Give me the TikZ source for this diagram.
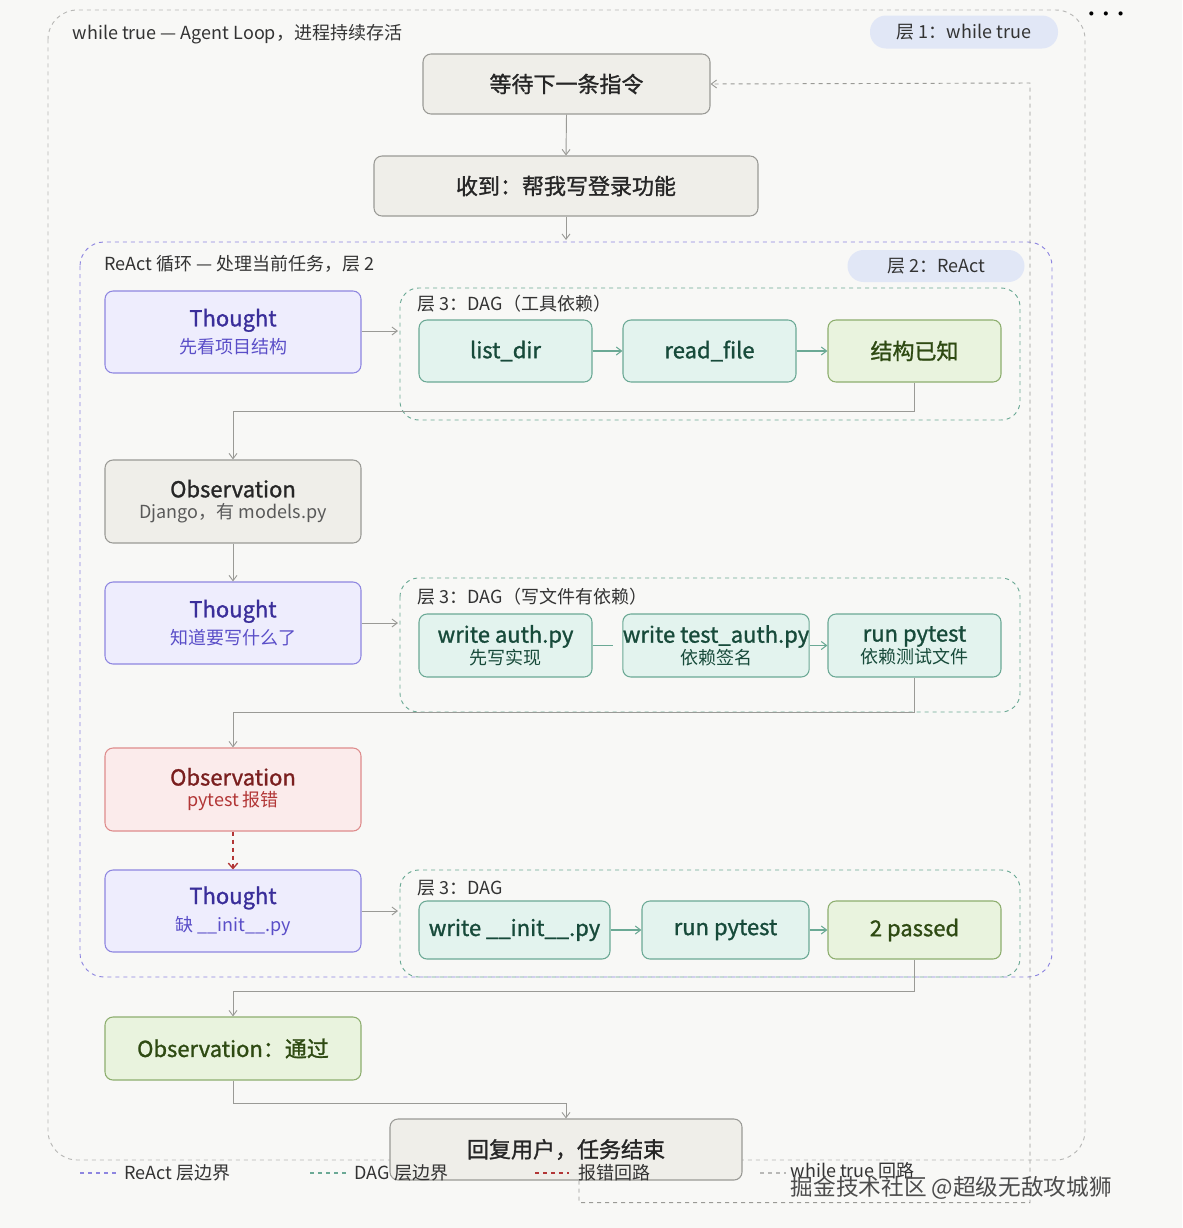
\documentclass[tikz,border=0pt]{standalone}
\usepackage{fontspec}
\setmainfont{Noto Sans CJK SC}
\newfontfamily\med[FakeBold=1.2]{Noto Sans CJK SC}
\usetikzlibrary{arrows.meta,calc}
\definecolor{bg}{HTML}{F8F8F6}
\definecolor{gfill}{HTML}{EFEEE9}\definecolor{gdraw}{HTML}{9A9A96}
\definecolor{pfill}{HTML}{EEEDFD}\definecolor{pdraw}{HTML}{8E86E0}\definecolor{ptxt}{HTML}{3A2E9A}\definecolor{psub}{HTML}{5A4EC8}
\definecolor{tfill}{HTML}{E3F3EE}\definecolor{tdraw}{HTML}{6BA995}\definecolor{ttxt}{HTML}{174A3A}
\definecolor{lfill}{HTML}{E9F3DE}\definecolor{ldraw}{HTML}{8DAE6E}\definecolor{ltxt}{HTML}{2E4A12}
\definecolor{rfill}{HTML}{FBEBEB}\definecolor{rdraw}{HTML}{DE8C8C}\definecolor{rtxt}{HTML}{7A1F1F}\definecolor{rsub}{HTML}{B23636}
\definecolor{badge}{HTML}{E1E7F6}
\tikzset{
 base/.style={rounded corners=6pt,line width=0.8pt,align=center,inner sep=0pt},
 gbox/.style={base,fill=gfill,draw=gdraw,text=black!85},
 pbox/.style={base,fill=pfill,draw=pdraw,text=ptxt},
 tbox/.style={base,fill=tfill,draw=tdraw,text=ttxt},
 lbox/.style={base,fill=lfill,draw=ldraw,text=ltxt},
 rbox/.style={base,fill=rfill,draw=rdraw,text=rtxt},
 big/.style={font=\med\fontsize{16.5}{19}\selectfont},
 arr/.style={draw=gdraw,line width=0.7pt,-{Straight Barb[length=4pt,width=6pt]}},
 tarr/.style={draw=tdraw,line width=0.8pt,-{Straight Barb[length=4pt,width=6pt]}},
 lbl/.style={anchor=west,font=\fontsize{13.5}{16}\selectfont,text=black!80},
}
\newcommand{\bx}[7]{\node[#6,minimum width={(#4-#2)*0.75pt},minimum height={(#5-#3)*0.75pt}] (#1) at ({(#2+#4)/2},{(#3+#5)/2}) {#7};}
\newcommand{\ttl}[1]{{\med\fontsize{16.5}{19}\selectfont #1}}
\newcommand{\sbt}[2]{{\fontsize{13.5}{15}\selectfont\color{#1}#2}}
\begin{document}
\begin{tikzpicture}[x=0.75pt,y=-0.75pt]
\useasboundingbox[fill=bg] (0,0) rectangle (1182,1228);
% outer
\draw[gdraw!70,dashed,line width=0.7pt,rounded corners=22pt] (48,10) rectangle (1085,1160);
\node[font=\fontsize{11}{11}\selectfont\bfseries] (dots) at (1106,16) {···};
\node[lbl] (t1) at (68,34) {while true — Agent Loop，进程持续存活};
\node[fill=badge,rounded corners=12pt,minimum width={188*0.75pt},minimum height={33*0.75pt},font=\fontsize{13.5}{16}\selectfont,text=black!80] (b1) at (964,32) {层 1：while true};
% react box
\draw[pdraw,dashed,line width=0.7pt,rounded corners=18pt] (80,242) rectangle (1052,977);
\node[lbl] (t2) at (100,264) {ReAct 循环 — 处理当前任务，层 2};
\node[fill=badge,rounded corners=12pt,minimum width={177*0.75pt},minimum height={32*0.75pt},font=\fontsize{13.5}{16}\selectfont,text=black!80] (b2) at (936,266) {层 2：ReAct};
% dag boxes
\draw[tdraw,dashed,line width=0.7pt,rounded corners=14pt] (400,288) rectangle (1020,420);
\draw[tdraw,dashed,line width=0.7pt,rounded corners=14pt] (400,578) rectangle (1020,712);
\draw[tdraw,dashed,line width=0.7pt,rounded corners=14pt] (400,870) rectangle (1020,977);
\node[lbl] (d1) at (413,304) {层 3：DAG（工具依赖）};
\node[lbl] (d2) at (413,597) {层 3：DAG（写文件有依赖）};
\node[lbl] (d3) at (413,888) {层 3：DAG};
% top nodes
\bx{wait}{423}{54}{710}{114}{gbox,big}{等待下一条指令}
\bx{recv}{374}{156}{758}{216}{gbox,big}{收到：帮我写登录功能}
% react column
\bx{th1}{105}{291}{361}{373}{pbox}{\ttl{Thought}\\[4pt]\sbt{psub}{先看项目结构}}
\bx{ob1}{105}{460}{361}{543}{gbox}{\ttl{Observation}\\[4pt]\sbt{black!65}{Django，有 models.py}}
\bx{th2}{105}{582}{361}{664}{pbox}{\ttl{Thought}\\[4pt]\sbt{psub}{知道要写什么了}}
\bx{ob2}{105}{748}{361}{831}{rbox}{\ttl{Observation}\\[4pt]\sbt{rsub}{pytest 报错}}
\bx{th3}{105}{870}{361}{952}{pbox}{\ttl{Thought}\\[4pt]\sbt{psub}{缺 \_\_init\_\_.py}}
\bx{ob3}{105}{1017}{361}{1080}{lbox,big}{Observation：通过}
\bx{fin}{390}{1119}{742}{1180}{gbox,big}{回复用户，任务结束}
% dag 1
\bx{ls}{419}{320}{592}{382}{tbox,big}{list\_dir}
\bx{rf}{623}{320}{796}{382}{tbox,big}{read\_file}
\bx{kn}{828}{320}{1001}{382}{lbox,big}{结构已知}
% dag 2
\bx{wa}{419}{614}{592}{677}{tbox}{\ttl{write auth.py}\\[0pt]\sbt{ttxt}{先写实现}}
\bx{wt}{623}{614}{809}{677}{tbox}{\ttl{write test\_auth.py}\\[0pt]\sbt{ttxt}{依赖签名}}
\bx{rp}{828}{614}{1001}{677}{tbox}{\ttl{run pytest}\\[0pt]\sbt{ttxt}{依赖测试文件}}
% dag 3
\bx{wi}{419}{901}{610}{959}{tbox,big}{write \_\_init\_\_.py}
\bx{rp2}{642}{901}{809}{959}{tbox,big}{run pytest}
\bx{ps}{828}{901}{1001}{959}{lbox,big}{2 passed}
% connectors
\draw[arr] (wait.south) -- (recv.north);
\coordinate (reacttop) at (566,240);
\draw[arr] (recv.south) -- (reacttop);
\coordinate (g1) at (398,331);\coordinate (g2) at (398,623);\coordinate (g3) at (398,911);
\draw[arr] (th1.east|-g1) -- (g1);
\draw[arr] (th2.east|-g2) -- (g2);
\draw[arr] (th3.east|-g3) -- (g3);
\draw[tarr] (ls) -- (rf);
\draw[tarr] (rf) -- (kn);
\draw[tdraw,line width=0.8pt] (wa.east) -- ++(20,0);
\draw[tarr] (wt) -- (rp);
\draw[tarr] (wi) -- (rp2);
\draw[tarr] (rp2) -- (ps);
\draw[arr] (kn.south) -- ++(0,29) -| (ob1.north);
\draw[arr] (ob1) -- (th2);
\draw[arr] (rp.south) -- ++(0,35) -| (ob2.north);
\draw[rsub,dashed,line width=1pt,-{Straight Barb[length=4pt,width=7pt]}] (ob2) -- (th3);
\draw[arr] (ps.south) -- ++(0,32) -| (ob3.north);
\draw[arr] (ob3.south) -- ++(0,23) -| (fin.north);
\draw[arr,dashed] ($(fin.south)+(13,0)$) -- ++(0,22) -| (1030,83) -- (wait.east);
% legend
\draw[pdraw,dashed,line width=1.2pt] (80,1173) -- (116,1173);
\node[lbl] (lg1) at (120,1173) {ReAct 层边界};
\draw[tdraw,dashed,line width=1.2pt] (310,1173) -- (346,1173);
\node[lbl] (lg2) at (350,1173) {DAG 层边界};
\draw[rsub,dashed,line width=1.2pt] (535,1173) -- (569,1173);
\node[lbl] (lg3) at (574,1173) {报错回路};
\draw[gdraw!70,dashed,line width=1.2pt] (760,1173) -- (786,1173);
\node[lbl] (lg4) at (786,1171) {while true 回路};
\node[anchor=west,font=\fontsize{17}{19}\selectfont,text=black!70] (wm) at (786,1188) {掘金技术社区 @超级无敌攻城狮};
\end{tikzpicture}
\end{document}
